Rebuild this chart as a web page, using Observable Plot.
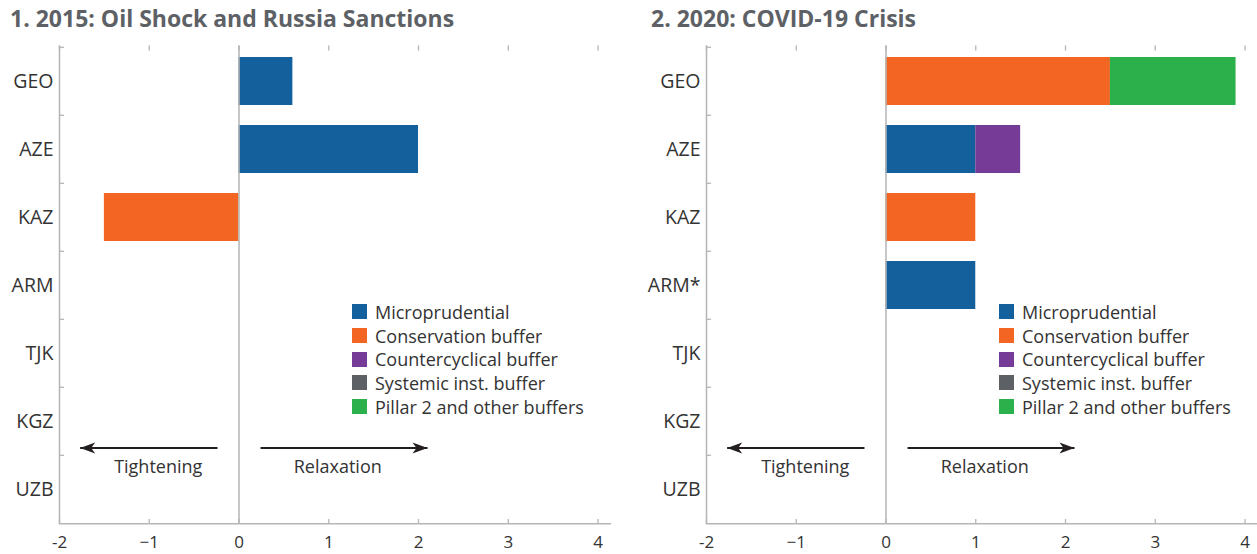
<!DOCTYPE html>
<html><head><meta charset="utf-8">
<script src="https://cdn.jsdelivr.net/npm/d3@7"></script>
<script src="https://cdn.jsdelivr.net/npm/@observablehq/plot@0.6"></script>
<style>
body{margin:0;background:#fff;width:1257px;height:554px;overflow:hidden;}
#wrap{position:relative;width:1257px;height:554px;overflow:hidden;}
.panel{position:absolute;top:0;width:647px;height:554px;}
.panel svg{max-width:none !important;}
.title{height:36px;box-sizing:border-box;padding-top:6px;font:700 23px "Open Sans", sans-serif;line-height:25px;color:#5d6166;white-space:nowrap;}
.legend{position:absolute;left:352px;top:300px;}
.lg-swatch{padding-bottom:0 !important;height:23.7px;}
.lg-swatch > svg{margin-right:8px !important;}
</style></head><body><div id="wrap"></div><script>
const seriesNames = ["Microprudential","Conservation buffer","Countercyclical buffer","Systemic inst. buffer","Pillar 2 and other buffers"];
const seriesColors = ["#13609d","#f26522","#763b96","#5d6166","#2bb04b"];

const titles = ["1. 2015: Oil Shock and Russia Sanctions","2. 2020: COVID-19 Crisis"];
const categories2015 = ["GEO","AZE","KAZ","ARM","TJK","KGZ","UZB"];
const categories2020 = ["GEO","AZE","KAZ","ARM*","TJK","KGZ","UZB"];

const country2015 = ["GEO","AZE","KAZ"];
const series2015 = ["Microprudential","Microprudential","Conservation buffer"];
const value2015 = [0.6, 2.0, -1.5];

const country2020 = ["GEO","GEO","AZE","AZE","KAZ","ARM*"];
const series2020 = ["Conservation buffer","Pillar 2 and other buffers","Microprudential","Countercyclical buffer","Conservation buffer","Microprudential"];
const value2020 = [2.5, 1.4, 1.0, 0.5, 1.0, 1.0];

const xTicks = [-2,-1,0,1,2,3,4];
const xTickLabels = ["-2","\u22121","0","1","2","3","4"];

const arrowLabels = ["Tightening","Relaxation"];
const arrowTail = [-0.24, 0.24];
const arrowTip = [-1.77, 2.1];
const arrowLabelX = [-0.9, 1.1];

const arrowHead = {
  draw(ctx) {
    ctx.moveTo(0, 0);
    ctx.lineTo(-15, -5.5);
    ctx.lineTo(-11, 0);
    ctx.lineTo(-15, 5.5);
    ctx.closePath();
  }
};

const FONT = "'Open Sans', sans-serif";

function makePanel(idx, left, padLeft, cats, C, S, V) {
  const W = 647, H = 518, mt = 9.5, mb = 30, ml = 59, mr = 36;
  const plotW = W - ml - mr, plotH = H - mt - mb;
  const step = plotH / cats.length;
  const data = C.map((c, i) => ({country: c, series: S[i], value: V[i]}));
  const arrows = arrowLabels.map((l, i) => ({label: l, x1: arrowTail[i], x2: arrowTip[i], lx: arrowLabelX[i], y: cats[5]}));
  const gray = "#b5b5b5";
  const chart = Plot.plot({
    width: W, height: H, marginTop: mt, marginBottom: mb, marginLeft: ml, marginRight: mr,
    x: {domain: [-2, 4.15]},
    y: {domain: cats, paddingInner: 0.3, paddingOuter: 0.15},
    color: {domain: seriesNames, range: seriesColors},
    style: {fontFamily: FONT, fontSize: "18px", color: "#333", background: "#fff", overflow: "visible"},
    marks: [
      Plot.barX(data, {y: "country", x: "value", fill: "series"}),
      Plot.ruleX([-2, 0], {stroke: gray, strokeWidth: 1.5}),
      Plot.ruleY([cats[cats.length - 1]], {dy: step / 2, stroke: gray, strokeWidth: 1.5}),
      Plot.ruleY(cats, {dy: -step / 2, insetRight: plotW - 5, stroke: gray, strokeWidth: 1.3}),
      Plot.ruleX(xTicks, {insetBottom: plotH - 5, stroke: gray, strokeWidth: 1.3}),
      Plot.ruleX(xTicks, {insetTop: plotH - 5, stroke: gray, strokeWidth: 1.3}),
      Plot.axisY({tickSize: 0, tickPadding: 6, label: null, fontSize: 19.5, fill: "#333"}),
      Plot.axisX({ticks: xTicks, tickFormat: d => xTickLabels[xTicks.indexOf(d)], tickSize: 0, tickPadding: 11, label: null, fontSize: 17, fill: "#333"}),
      Plot.link(arrows, {x1: "x1", x2: "x2", y1: "y", y2: "y", dy: 26.5, stroke: "#231f20", strokeWidth: 2}),
      Plot.dot(arrows, {x: "x2", y: "y", dy: 26.5, symbol: arrowHead, rotate: d => d.x2 < d.x1 ? 180 : 0, fill: "#231f20", stroke: null}),
      Plot.text(arrows, {x: "lx", y: "y", text: "label", dy: 45.5, fontSize: 18, fill: "#333"})
    ]
  });
  const div = document.createElement("div");
  div.className = "panel";
  div.style.left = left + "px";
  const t = document.createElement("div");
  t.className = "title";
  t.style.paddingLeft = padLeft + "px";
  t.textContent = titles[idx];
  div.appendChild(t);
  div.appendChild(chart);
  const lg = Plot.legend({
    color: {domain: seriesNames, range: seriesColors},
    legend: "swatches", columns: 1, swatchSize: 15, className: "lg",
    style: {fontFamily: FONT, fontSize: "18px", color: "#333"}
  });
  const lw = document.createElement("div");
  lw.className = "legend";
  lw.appendChild(lg);
  div.appendChild(lw);
  document.getElementById("wrap").appendChild(div);
}

makePanel(0, 0, 10, categories2015, country2015, series2015, value2015);
makePanel(1, 647, 4, categories2020, country2020, series2020, value2020);
</script></body></html>
